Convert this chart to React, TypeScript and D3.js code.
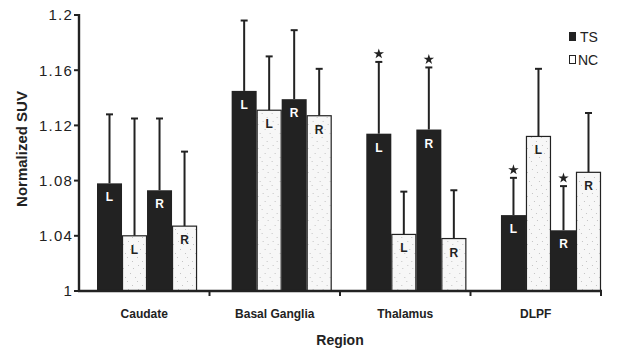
import React from "react";
import * as d3 from "d3";

const categories = ["Caudate", "Basal Ganglia", "Thalamus", "DLPF"];
// bar order inside a group: TS left, NC left, TS right, NC right
const barKeys = ["TS-L", "NC-L", "TS-R", "NC-R"];
const tsLeft = [1.078, 1.145, 1.114, 1.055];
const tsLeftErr = [1.128, 1.196, 1.166, 1.082];
const ncLeft = [1.04, 1.131, 1.041, 1.112];
const ncLeftErr = [1.125, 1.17, 1.072, 1.161];
const tsRight = [1.073, 1.139, 1.117, 1.044];
const tsRightErr = [1.125, 1.189, 1.162, 1.076];
const ncRight = [1.047, 1.127, 1.038, 1.086];
const ncRightErr = [1.101, 1.161, 1.073, 1.129];
const starred = [false, false, true, true]; // TS bars marked with *
const yTicks = [1, 1.04, 1.08, 1.12, 1.16, 1.2];

const width = 621;
const height = 352;
const font = "'Liberation Sans', Arial, sans-serif";

const series = [
  { key: "TS-L", ts: true, side: "L", vals: tsLeft, errs: tsLeftErr },
  { key: "NC-L", ts: false, side: "L", vals: ncLeft, errs: ncLeftErr },
  { key: "TS-R", ts: true, side: "R", vals: tsRight, errs: tsRightErr },
  { key: "NC-R", ts: false, side: "R", vals: ncRight, errs: ncRightErr },
];

// fixed speckle positions for the light bar texture
const dots = [
  [1, 1], [6, 4], [3, 9], [8, 13], [0, 17], [5, 21],
];

const starPath = d3.symbol(d3.symbolStar, 34)();

const App = () => {
  const y = d3.scaleLinear().domain([1, 1.2]).range([291, 15]);
  const axisX = d3.scaleBand().domain(categories).range([79, 601]);
  const groupX = d3
    .scaleBand()
    .domain(categories)
    .range([97, 601])
    .paddingInner(0.257)
    .paddingOuter(0);
  const barX = d3.scaleBand().domain(barKeys).range([0, groupX.bandwidth()]);
  const bw = barX.bandwidth();

  return (
    <div style={{ position: "fixed", left: 0, top: 0 }}>
      <svg width={width} height={height} style={{ display: "block", background: "#fff" }}>
        <defs>
          <pattern id="stipple" width="10" height="24" patternUnits="userSpaceOnUse">
            <rect width="10" height="24" fill="#f7f7f7" />
            {dots.map(([dx, dy], i) => (
              <rect key={i} x={dx} y={dy} width="1" height="1" fill="#c4c4c4" />
            ))}
          </pattern>
        </defs>

        {/* bars */}
        {categories.map((c, ci) => (
          <g key={c} transform={`translate(${groupX(c)},0)`}>
            {series.map((s) => {
              const x0 = barX(s.key)!;
              const top = y(s.vals[ci]);
              const errTop = y(s.errs[ci]);
              const cx = x0 + bw / 2;
              return (
                <g key={s.key}>
                  <line x1={cx} x2={cx} y1={top} y2={errTop} stroke="#222" strokeWidth={2} />
                  <line x1={cx - 3.5} x2={cx + 3.5} y1={errTop} y2={errTop} stroke="#222" strokeWidth={2} />
                  {s.ts ? (
                    <rect x={x0} y={top} width={bw} height={y(1) - top} fill="#222" />
                  ) : (
                    <rect
                      x={x0 + 0.5}
                      y={top}
                      width={bw - 1}
                      height={y(1) - top}
                      fill="url(#stipple)"
                      stroke="#222"
                      strokeWidth={1.2}
                    />
                  )}
                  <text
                    x={cx}
                    y={top + 18}
                    textAnchor="middle"
                    fontFamily={font}
                    fontWeight="bold"
                    fontSize={12}
                    fill={s.ts ? "#fff" : "#222"}
                  >
                    {s.side}
                  </text>
                  {s.ts && starred[ci] && (
                    <path d={starPath!} transform={`translate(${cx},${errTop - 8})`} fill="#222" />
                  )}
                </g>
              );
            })}
          </g>
        ))}

        {/* y axis */}
        <line x1={79} x2={79} y1={y(1.2) - 1} y2={y(1) + 1} stroke="#222" strokeWidth={2.4} />
        {yTicks.map((t) => (
          <g key={t}>
            <line x1={74} x2={79} y1={y(t)} y2={y(t)} stroke="#222" strokeWidth={2} />
            <text
              x={73}
              y={y(t)}
              dy="0.36em"
              textAnchor="end"
              fontFamily={font}
              fontSize={15}
              letterSpacing={1.2}
              fill="#222"
            >
              {d3.format("")(t)}
            </text>
          </g>
        ))}

        {/* x axis */}
        <line x1={78} x2={602} y1={y(1)} y2={y(1)} stroke="#222" strokeWidth={2.4} />
        {categories.map((c) => (
          <g key={c}>
            <line
              x1={axisX(c)! + axisX.bandwidth()}
              x2={axisX(c)! + axisX.bandwidth()}
              y1={y(1)}
              y2={y(1) + 5}
              stroke="#222"
              strokeWidth={2}
            />
            <text
              x={axisX(c)! + axisX.bandwidth() / 2}
              y={318}
              textAnchor="middle"
              fontFamily={font}
              fontWeight="bold"
              fontSize={12}
              fill="#222"
            >
              {c}
            </text>
          </g>
        ))}

        <text x={340} y={345} textAnchor="middle" fontFamily={font} fontWeight="bold" fontSize={14} fill="#222">
          Region
        </text>
        <text
          transform="translate(27,149) rotate(-90)"
          textAnchor="middle"
          fontFamily={font}
          fontWeight="bold"
          fontSize={15}
          fill="#222"
        >
          Normalized SUV
        </text>

        {/* legend */}
        <rect x={569} y={32} width={7} height={9} fill="#222" />
        <text x={580} y={42} fontFamily={font} fontSize={14} fill="#222">TS</text>
        <rect x={569.5} y={55.5} width={6} height={8} fill="#fff" stroke="#222" strokeWidth={1} />
        <text x={578} y={65} fontFamily={font} fontSize={14} fill="#222">NC</text>
      </svg>
    </div>
  );
};

export default App;
